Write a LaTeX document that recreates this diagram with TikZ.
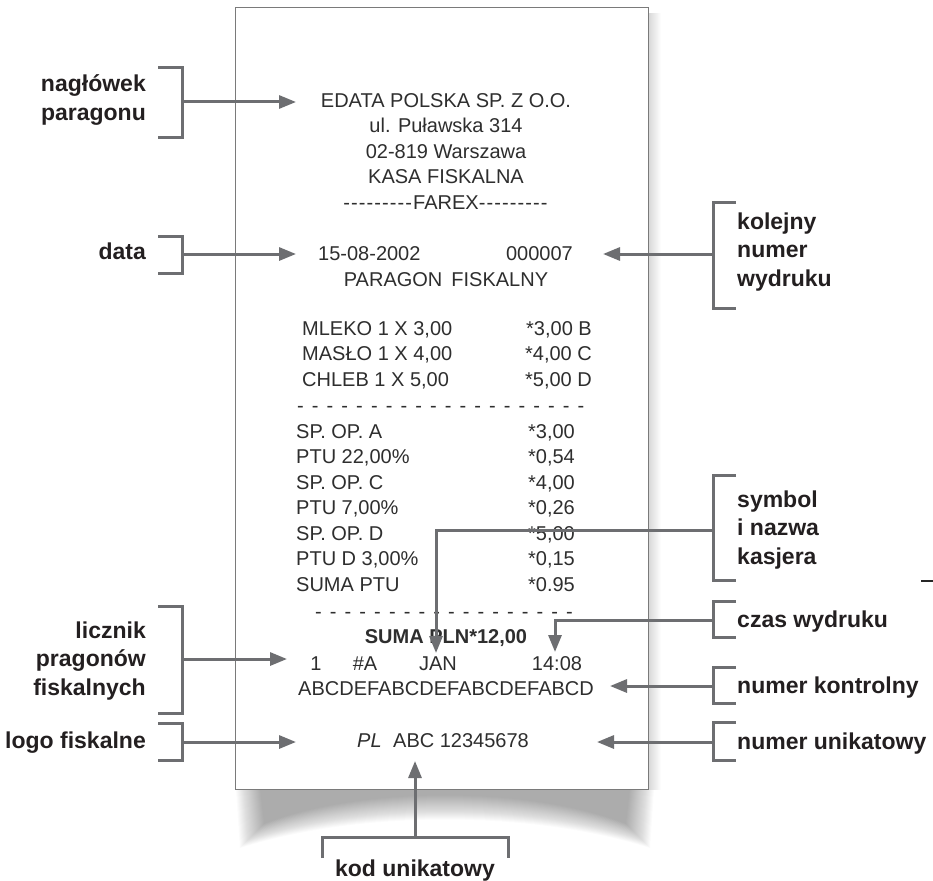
\documentclass[tikz,border=0pt]{standalone}
\usepackage{fontspec}
\setmainfont{Liberation Sans}
\usetikzlibrary{arrows.meta}
\definecolor{linegray}{HTML}{6D6E71}
\definecolor{txtgray}{HTML}{2E2E2E}
\definecolor{lblcol}{HTML}{231F20}
\definecolor{edgegray}{HTML}{7A7A7A}
\newcommand\dashrow[1]{\foreach \i in {1,...,#1}{\ifnum\i>1 \hspace{8.1pt}\fi-}}
\newcommand\hyrow[1]{\foreach \i in {1,...,#1}{-\kern1.1pt}}
\begin{document}
\begin{tikzpicture}[x=1pt,y=-1pt,
  rc/.style={inner sep=0pt, text=txtgray, font=\fontsize{20}{25}\selectfont},
  rcb/.style={inner sep=0pt, text=txtgray, font=\fontsize{20}{25}\selectfont\bfseries},
  lbl/.style={inner sep=0pt, text=lblcol, font=\fontsize{23}{28.5}\selectfont\bfseries},
  brk/.style={draw=linegray, line width=3pt},
  arr/.style={draw=linegray, line width=3pt, -{Triangle[length=17pt,width=13pt]}},
]
\useasboundingbox (0,0) rectangle (933,880);

% shadow below the paper
\foreach \r in {-12,...,12} {
  \fill[black, fill opacity=0.017] (248+\r,789) -- (252+\r,836-\r)
    .. controls (360,798-\r) and (530,798-\r) .. (638-\r,836-\r) -- (642-\r,789) -- cycle;
}
\shade[left color=black!16, right color=white] (648,14) rectangle (661,789);

% paper
\node[draw=edgegray, fill=white, line width=1.4pt, minimum width=413pt, minimum height=782pt,
      inner sep=0pt, anchor=north west] (paper) at (235,7) {};

% receipt text
\node[rc, anchor=base] (h1) at (446,107) {EDATA POLSKA SP. Z O.O.};
\node[rc, anchor=base] (h2) at (446,132.5) {ul. Puławska 314};
\node[rc, anchor=base] (h3) at (446,158) {02-819 Warszawa};
\node[rc, anchor=base] (h4) at (446,183.5) {KASA FISKALNA};
\node[rc, anchor=base] (h5) at (446,209) {\hyrow{9}FAREX\hyrow{9}};
\node[rc, anchor=base west] (date) at (318,260) {15-08-2002};
\node[rc, anchor=base east] (nr) at (573,260) {000007};
\node[rc, anchor=base] (par) at (446,286) {PARAGON\hspace{9pt}FISKALNY};

\node[rc, anchor=base west] (i1) at (302,335) {MLEKO 1 X 3,00};
\node[rc, anchor=base west] (i2) at (302,360.5) {MASŁO 1 X 4,00};
\node[rc, anchor=base west] (i3) at (302,386) {CHLEB 1 X 5,00};
\node[rc, anchor=base east] (v1) at (592,335) {*3,00 B};
\node[rc, anchor=base east] (v2) at (592,360.5) {*4,00 C};
\node[rc, anchor=base east] (v3) at (592,386) {*5,00 D};
\node[rc, anchor=base west] (d1) at (297,412) {\dashrow{20}};

\node[rc, anchor=base west] (s1) at (296,438) {SP. OP. A};
\node[rc, anchor=base west] (s2) at (296,463.5) {PTU 22,00\%};
\node[rc, anchor=base west] (s3) at (296,489) {SP. OP. C};
\node[rc, anchor=base west] (s4) at (296,514.5) {PTU 7,00\%};
\node[rc, anchor=base west] (s5) at (296,540) {SP. OP. D};
\node[rc, anchor=base west] (s6) at (296,565.5) {PTU D 3,00\%};
\node[rc, anchor=base west] (s7) at (296,591) {SUMA PTU};
\node[rc, anchor=base east] (w1) at (575,438) {*3,00};
\node[rc, anchor=base east] (w2) at (575,463.5) {*0,54};
\node[rc, anchor=base east] (w3) at (575,489) {*4,00};
\node[rc, anchor=base east] (w4) at (575,514.5) {*0,26};
\node[rc, anchor=base east] (w5) at (575,540) {*5,00};
\node[rc, anchor=base east] (w6) at (575,565.5) {*0,15};
\node[rc, anchor=base east] (w7) at (575,591) {*0.95};
\node[rc, anchor=base west] (d2) at (315,618) {\dashrow{18}};

\node[rcb, anchor=base] (suma) at (446,643) {SUMA PLN*12,00};
\node[rc, anchor=base] (cnt) at (316,670) {1};
\node[rc, anchor=base] (hsh) at (365,670) {\#A};
\node[rc, anchor=base] (jan) at (438,670) {JAN};
\node[rc, anchor=base] (time) at (557,670) {14:08};
\node[rc, anchor=base] (ctrl) at (446,695) {ABCDEFABCDEFABCDEFABCD};
\node[rc, anchor=base west] (pl) at (357,747) {\itshape PL};
\node[rc, anchor=base west] (uniq) at (393,747) {ABC 12345678};

% left labels (base = last line)
\node[lbl, anchor=base east, align=right] (Lhead) at (146,120.5) {nagłówek\\paragonu};
\node[lbl, anchor=base east] (Ldata) at (146,259) {data};
\node[lbl, anchor=base east, align=right] (Lcnt) at (146,695) {licznik\\pragonów\\fiskalnych};
\node[lbl, anchor=base east] (Llogo) at (146,748) {logo fiskalne};
% right labels
\node[lbl, anchor=base west, align=left] (Rnr) at (737,286) {kolejny\\numer\\wydruku};
\node[lbl, anchor=base west, align=left] (Rsym) at (737,564) {symbol\\i nazwa\\kasjera};
\node[lbl, anchor=base west] (Rtime) at (737,627) {czas wydruku};
\node[lbl, anchor=base west] (Rctrl) at (737,693) {numer kontrolny};
\node[lbl, anchor=base west] (Runiq) at (737,749) {numer unikatowy};
\node[lbl, anchor=base] (Bkod) at (415,876) {kod unikatowy};

% brackets
\draw[brk] (158,68) -- (182,68) -- (182,137) -- (158,137);
\draw[brk] (158,236) -- (182,236) -- (182,273) -- (158,273);
\draw[brk] (158,606) -- (182,606) -- (182,713) -- (158,713);
\draw[brk] (158,723) -- (182,723) -- (182,760) -- (158,760);
\draw[brk] (736,202) -- (713,202) -- (713,308) -- (736,308);
\draw[brk] (736,475) -- (713,475) -- (713,580) -- (736,580);
\draw[brk] (736,601) -- (713,601) -- (713,637) -- (736,637);
\draw[brk] (736,667) -- (713,667) -- (713,703) -- (736,703);
\draw[brk] (736,722) -- (713,722) -- (713,760) -- (736,760);
\draw[brk] (322,858) -- (322,837) -- (508,837) -- (508,858);

% connector coordinates
\coordinate (bHead) at (182,102);  \coordinate (tHead) at (296,102);
\coordinate (bData) at (182,254);  \coordinate (tData) at (296,254);
\coordinate (bCnt) at (182,659);   \coordinate (tCnt) at (287,659);
\coordinate (bLogo) at (182,742);  \coordinate (tLogo) at (296,742);
\coordinate (bNr) at (713,254);    \coordinate (tNr) at (603,254);
\coordinate (bSym) at (713,530);   \coordinate (tSym) at (436,653);
\coordinate (bTime) at (713,620);  \coordinate (tTime) at (555,652);
\coordinate (bCtrl) at (713,686);  \coordinate (tCtrl) at (610,686);
\coordinate (bUniq) at (713,742);  \coordinate (tUniq) at (597,742);
\coordinate (bKod) at (415,837);   \coordinate (tKod) at (415,761);

% connectors
\draw[arr] (bHead) -- (tHead);
\draw[arr] (bData) -- (tData);
\draw[arr] (bCnt) -- (tCnt);
\draw[arr] (bLogo) -- (tLogo);
\draw[arr] (bNr) -- (tNr);
\draw[arr] (bSym) -| (tSym);
\draw[arr] (bTime) -| (tTime);
\draw[arr] (bCtrl) -- (tCtrl);
\draw[arr] (bUniq) -- (tUniq);
\draw[arr] (bKod) -- (tKod);

% small stray mark at right edge
\coordinate (m1) at (921,581); \coordinate (m2) at (933,581);
\draw[black!85, line width=1.3pt] (m1) -- (m2);
\end{tikzpicture}
\end{document}
